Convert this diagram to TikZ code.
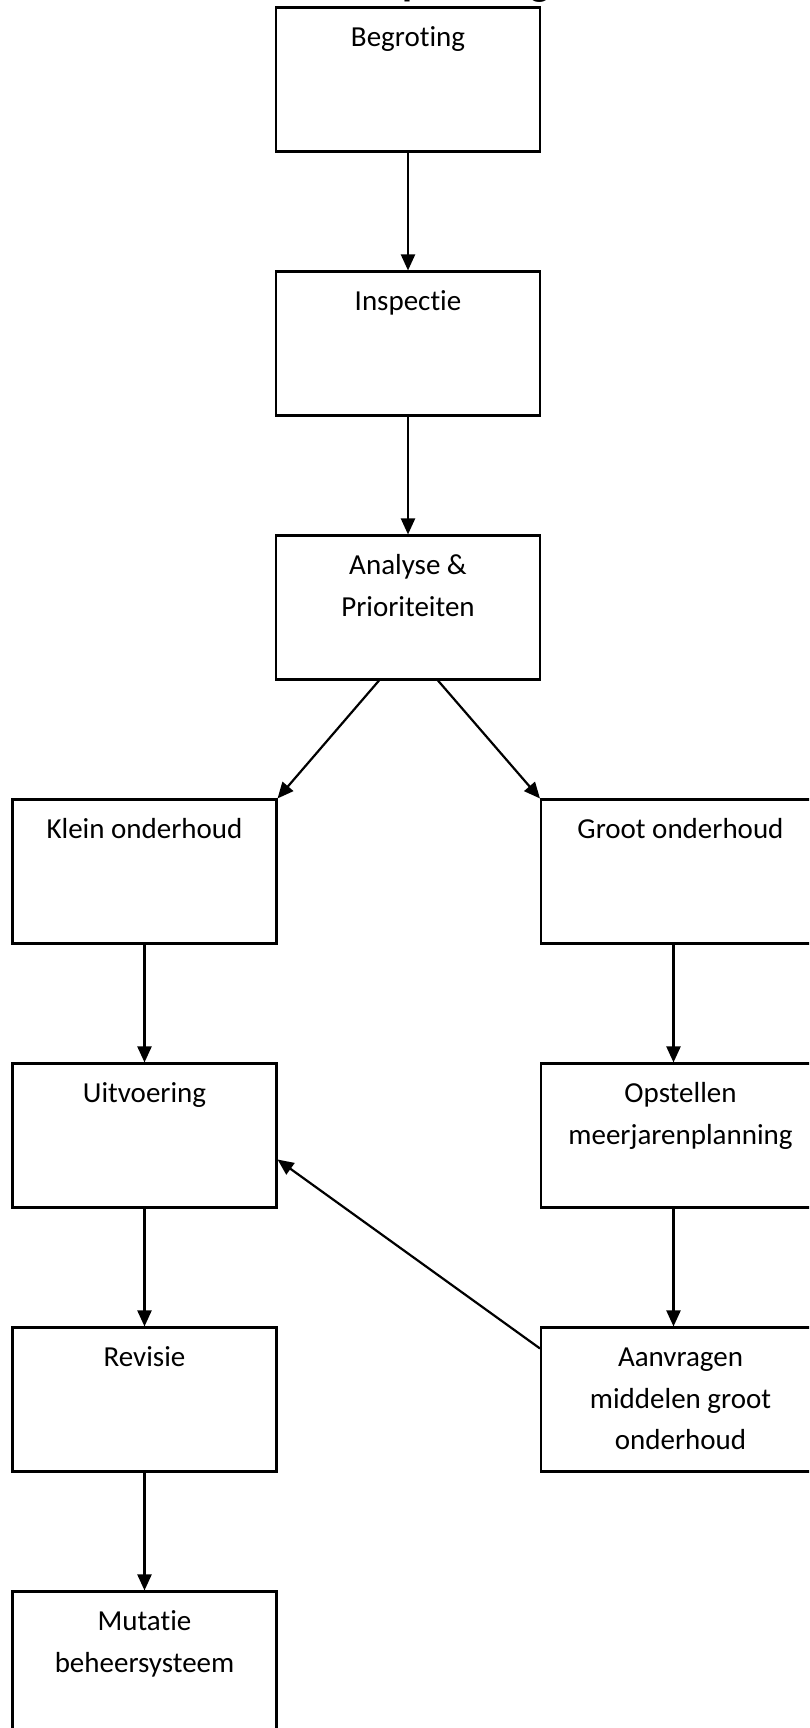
\documentclass[tikz,border=0pt]{standalone}
\usepackage{fontspec}
\setmainfont{Carlito}[Ligatures={NoCommon}]
\usetikzlibrary{arrows.meta}

\begin{document}
\begin{tikzpicture}[x=1pt,y=-1pt,>={Triangle[length=16pt,width=14pt]},line width=2.2pt]
                  \tikzset{
                      blok/.style={draw,rectangle,inner sep=0pt,line width=2.1pt,
                              execute at begin node={\begin{minipage}[t][144pt][t]{#1}\centering\fontsize{29}{41.3}\selectfont\rule{0pt}{39.4pt}},
                              execute at end node={\end{minipage}}},
                      blok/.default=264pt,
                      titel/.style={anchor=base east,inner sep=0pt,font=\bfseries\fontsize{41}{41}\selectfont}
                  }
                  \useasboundingbox (0,0) rectangle (809,1728);
                  \clip (0,0) rectangle (809,1728);
                  \node[titel] (kop) at (551,-4) {Onderhoudsplanning};
                  % middelste kolom
                  \node[blok] (begr) at (408,79.5) {Begroting};
                  \node[blok] (insp) at (408,343.5) {Inspectie};
                  \node[blok] (anal) at (408,607.5) {Analyse \&\\Prioriteiten};
                  % links en rechts
                  \node[blok] (klein) at (144.5,871.5) {Klein onderhoud};
                  \node[blok=279pt] (groot) at (680.5,871.5) {Groot onderhoud};
                  \node[blok] (uitv) at (144.5,1135.5) {Uitvoering};
                  \node[blok=279pt] (opst) at (680.5,1135.5) {Opstellen\\meerjarenplanning};
                  \node[blok] (rev) at (144.5,1399.5) {Revisie};
                  \node[blok=279pt] (aanv) at (680.5,1399.5) {Aanvragen\\middelen groot\\onderhoud};
                  \node[blok] (mut) at (144.5,1663.5) {Mutatie\\beheersysteem};
                  \draw[->](begr)--(insp);
                  \draw[->](insp)--(anal);
                  \draw[->]([xshift=-29pt]anal.south)--(klein.north east);
                  \draw[->]([xshift=30pt]anal.south)--(groot.north west);
                  \draw[->](klein)--(uitv);
                  \draw[->](uitv)--(rev);
                  \draw[->](rev)--(mut);
                  \draw[->]([xshift=-7pt]groot.south)--([xshift=-7pt]opst.north);
                  \draw[->]([xshift=-7pt]opst.south)--([xshift=-7pt]aanv.north);
                  \draw[->]([yshift=-22pt]aanv.north west)--([yshift=-24pt]uitv.east);
              \end{tikzpicture}
\end{document}
